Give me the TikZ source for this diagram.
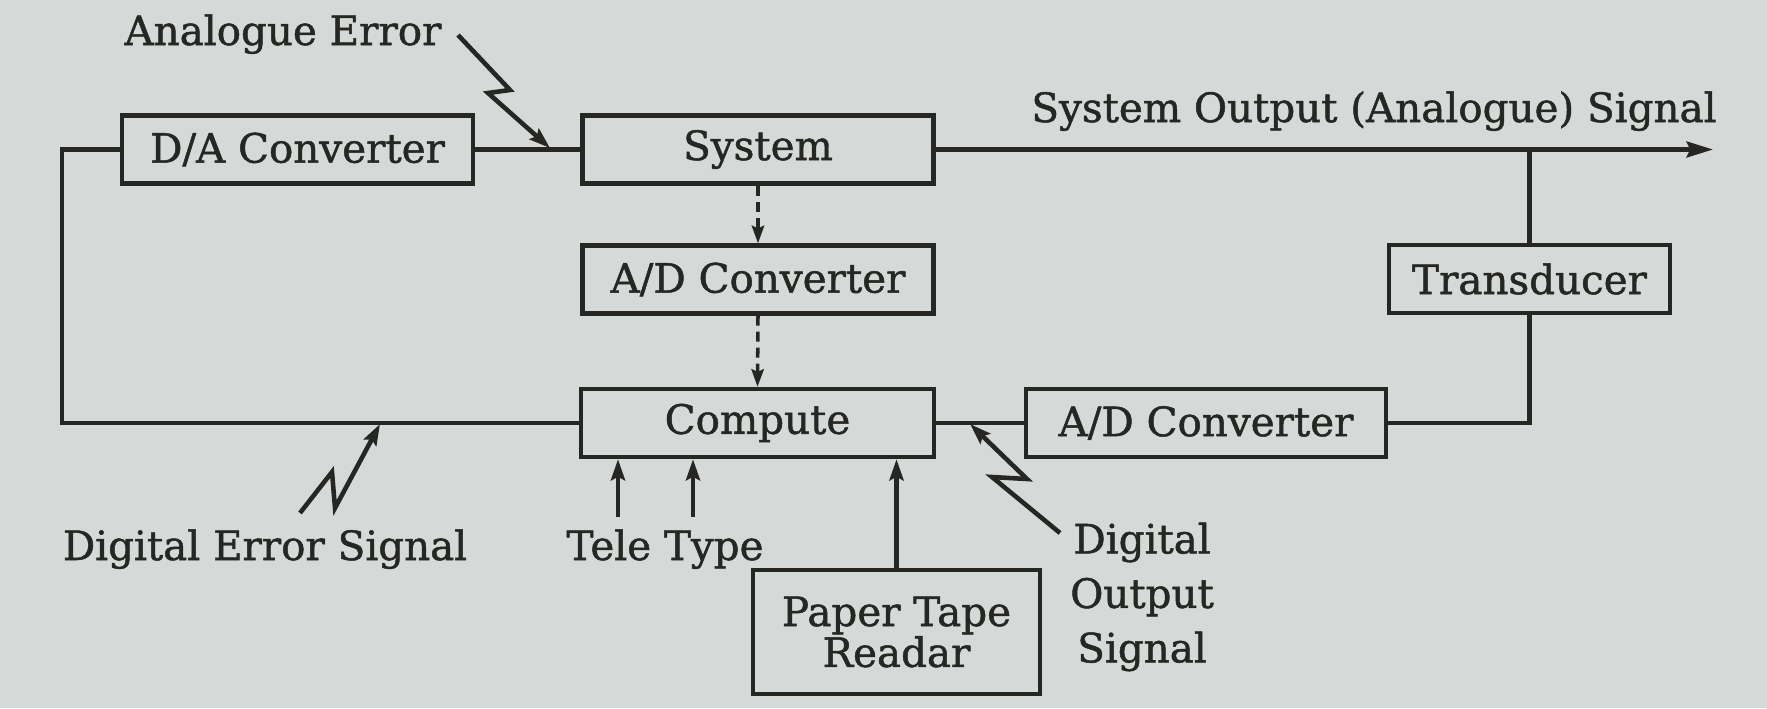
\documentclass[tikz,border=0pt]{standalone}
\usepackage{fontspec}
\setmainfont[FakeBold=1.2]{DejaVu Serif}
\usetikzlibrary{arrows.meta}
\definecolor{paper}{RGB}{213,218,217}
\definecolor{ink}{RGB}{38,38,35}
\begin{document}
\begin{tikzpicture}[x=0.02cm,y=-0.02cm,
  every node/.style={font=\fontsize{23}{22}\selectfont, text=ink},
  box/.style={draw=ink, line width=2.5pt, inner sep=0pt, minimum height=1.36cm},
  wire/.style={draw=ink, line width=2.5pt},
  arr/.style={wire, -{Stealth[length=12pt,width=8pt,inset=2pt]}},
  bigarr/.style={wire, -{Stealth[length=15pt,width=9pt,inset=2pt]}},
  dasharr/.style={draw=ink, line width=2pt, dash pattern=on 5.7pt off 3.4pt, -{Stealth[length=10pt,width=7pt,inset=1.5pt]}},
  bolt/.style={draw=ink, line width=2.6pt, line join=miter, -{Stealth[length=12pt,width=8pt,inset=2pt]}}]
\fill[paper] (0,0) rectangle (1767,708);
\useasboundingbox (0,0) rectangle (1767,708);

% boxes
\node[box, minimum width=7.02cm] (da) at (297.5,149.5) {D/A Converter};
\node[box, minimum width=7.02cm] (sys) at (758,149.5) {System};
\node[box, minimum width=7.02cm] (ad1) at (758,279.5) {A/D Converter};
\node[box, minimum width=7.06cm] (comp) at (757.5,423) {Compute};
\node[box, minimum width=7.2cm] (ad2) at (1206,423) {A/D Converter};
\node[box, minimum width=5.62cm] (trans) at (1529.5,279) {Transducer};
\node[box, minimum width=5.74cm, minimum height=2.48cm, align=center] (ptr) at (896.5,632) {Paper Tape\\Readar};

% labels
\node[anchor=base] (ae) at (283,45) {Analogue Error};
\node[anchor=base] (soas) at (1374,122) {System Output (Analogue) Signal};
\node[anchor=base] (des) at (265,560) {Digital Error Signal};
\node[anchor=base] (tt) at (665,560) {Tele Type};
\node[align=center, font=\fontsize{23}{31}\selectfont] (dos) at (1142,597) {Digital\\Output\\Signal};

% connectors
\coordinate (lc) at (62,423);
\draw[wire] (da.west) -| (lc) -- (comp.west);
\draw[wire] (da.east) -- (sys.west);
\coordinate (out) at (1713,149.5);
\draw[bigarr] (sys.east) -- (out);
\coordinate (br) at (trans.north |- sys.east);
\draw[wire] (br) -- (trans.north);
\draw[wire] (trans.south) |- (ad2.east);
\draw[wire] (ad2.west) -- (comp.east);
\draw[dasharr] (sys.south) -- (ad1.north);
\draw[dasharr] (ad1.south) -- (comp.north);
\coordinate (tt1) at (618,517);
\coordinate (tt2) at (693,517);
\draw[arr] (tt1) -- (tt1 |- comp.south);
\draw[arr] (tt2) -- (tt2 |- comp.south);
\draw[arr] (ptr.north) -- (ptr.north |- comp.south);

% lightning arrows
\coordinate (ae1) at (458,35);
\coordinate (aet) at (550,148);
\draw[bolt] (ae1) -- (510,90) -- (488,93) -- (aet);
\coordinate (de1) at (300,513);
\coordinate (det) at (380,424);
\draw[bolt] (de1) -- (332,472) -- (335,508) -- (det);
\coordinate (do1) at (1060,533);
\coordinate (dot) at (970,424);
\draw[bolt] (do1) -- (992,477) -- (1027,479) -- (dot);
\end{tikzpicture}
\end{document}
